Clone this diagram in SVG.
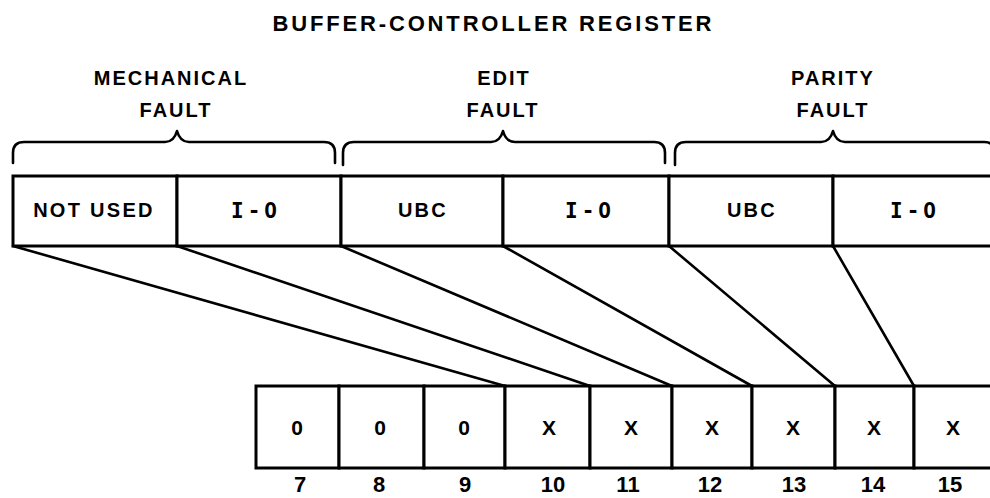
<svg xmlns="http://www.w3.org/2000/svg" width="990" height="498" viewBox="0 0 990 498">
  <style>
    .bg { fill: #ffffff; }
    .cell { fill: #ffffff; stroke: #000000; stroke-width: 3; }
    .brace { fill: none; stroke: #000000; stroke-width: 2.6; stroke-linecap: round; stroke-linejoin: round; }
    .conn { fill: none; stroke: #000000; stroke-width: 2.6; stroke-linecap: round; }
    .t { font-family: "Liberation Sans", Arial, sans-serif; font-weight: bold; fill: #000000; text-anchor: middle; }
    .title { font-size: 22px; }
    .lbl { font-size: 20px; letter-spacing: 2px; }
    .fld { font-size: 20px; letter-spacing: 2.3px; }
    .io { font-family: "DejaVu Sans Mono", "Liberation Mono", monospace; font-weight: bold; font-size: 21px; letter-spacing: 4px; fill: #000000; text-anchor: middle; }
    .bit { font-size: 21px; }
    .num { font-size: 22px; }
  </style>
  <rect class="bg" x="0" y="0" width="990" height="498"/>

  <g id="title">
    <text class="t title" x="492" y="31" textLength="439" lengthAdjust="spacing">BUFFER-CONTROLLER REGISTER</text>
  </g>

  <g id="mechanical-fault">
    <text class="t lbl" x="171" y="85">MECHANICAL</text>
    <text class="t lbl" x="176" y="117">FAULT</text>
    <path class="brace" d="M13,163 V153 Q13,142 24,142 H165 Q174,142 177,131 Q180,142 189,142 H324 Q335,142 335,153 V163"/>
  </g>
  <g id="edit-fault">
    <text class="t lbl" x="504" y="85">EDIT</text>
    <text class="t lbl" x="503" y="117">FAULT</text>
    <path class="brace" d="M343,165 V153 Q343,142 354,142 H491 Q500,142 503,131 Q506,142 515,142 H654 Q665,142 665,153 V163"/>
  </g>
  <g id="parity-fault">
    <text class="t lbl" x="833" y="85">PARITY</text>
    <text class="t lbl" x="833" y="117">FAULT</text>
    <path class="brace" d="M675,165 V153 Q675,142 686,142 H821 Q830,142 833,131 Q836,142 845,142 H984 Q995,142 995,153 V163"/>
  </g>

  <g id="f-not-used">
    <rect class="cell" x="13" y="176" width="164" height="70"/>
    <text class="t fld" x="94" y="217">NOT USED</text>
  </g>
  <g id="f-io-1">
    <rect class="cell" x="177" y="176" width="164" height="70"/>
    <text class="io" x="256" y="218">I-O</text>
  </g>
  <g id="f-ubc-1">
    <rect class="cell" x="341" y="176" width="162" height="70"/>
    <text class="t fld" x="423" y="217">UBC</text>
  </g>
  <g id="f-io-2">
    <rect class="cell" x="503" y="176" width="166" height="70"/>
    <text class="io" x="590" y="218">I-O</text>
  </g>
  <g id="f-ubc-2">
    <rect class="cell" x="669" y="176" width="164" height="70"/>
    <text class="t fld" x="752" y="217">UBC</text>
  </g>
  <g id="f-io-3">
    <rect class="cell" x="833" y="176" width="167" height="70"/>
    <text class="io" x="915" y="218">I-O</text>
  </g>

  <g id="connectors">
    <line class="conn" x1="13" y1="246" x2="505" y2="386"/>
    <line class="conn" x1="177" y1="246" x2="590" y2="386"/>
    <line class="conn" x1="341" y1="246" x2="672" y2="386"/>
    <line class="conn" x1="503" y1="246" x2="752" y2="386"/>
    <line class="conn" x1="669" y1="246" x2="835" y2="386"/>
    <line class="conn" x1="833" y1="246" x2="914" y2="386"/>
  </g>

  <g id="bit-7">
    <rect class="cell" x="256" y="386" width="83" height="82"/>
    <text class="t bit" x="297" y="435">0</text>
    <text class="t num" x="300" y="492">7</text>
  </g>
  <g id="bit-8">
    <rect class="cell" x="339" y="386" width="85" height="82"/>
    <text class="t bit" x="380" y="435">0</text>
    <text class="t num" x="379" y="492">8</text>
  </g>
  <g id="bit-9">
    <rect class="cell" x="424" y="386" width="81" height="82"/>
    <text class="t bit" x="464" y="435">0</text>
    <text class="t num" x="465" y="492">9</text>
  </g>
  <g id="bit-10">
    <rect class="cell" x="505" y="386" width="85" height="82"/>
    <text class="t bit" x="549" y="435">X</text>
    <text class="t num" x="553" y="492">10</text>
  </g>
  <g id="bit-11">
    <rect class="cell" x="590" y="386" width="82" height="82"/>
    <text class="t bit" x="631" y="435">X</text>
    <text class="t num" x="628" y="492">11</text>
  </g>
  <g id="bit-12">
    <rect class="cell" x="672" y="386" width="80" height="82"/>
    <text class="t bit" x="712" y="435">X</text>
    <text class="t num" x="710" y="492">12</text>
  </g>
  <g id="bit-13">
    <rect class="cell" x="752" y="386" width="83" height="82"/>
    <text class="t bit" x="793" y="435">X</text>
    <text class="t num" x="794" y="492">13</text>
  </g>
  <g id="bit-14">
    <rect class="cell" x="835" y="386" width="79" height="82"/>
    <text class="t bit" x="874" y="435">X</text>
    <text class="t num" x="873" y="492">14</text>
  </g>
  <g id="bit-15">
    <rect class="cell" x="914" y="386" width="80" height="82"/>
    <text class="t bit" x="953" y="435">X</text>
    <text class="t num" x="950" y="492">15</text>
  </g>
</svg>
